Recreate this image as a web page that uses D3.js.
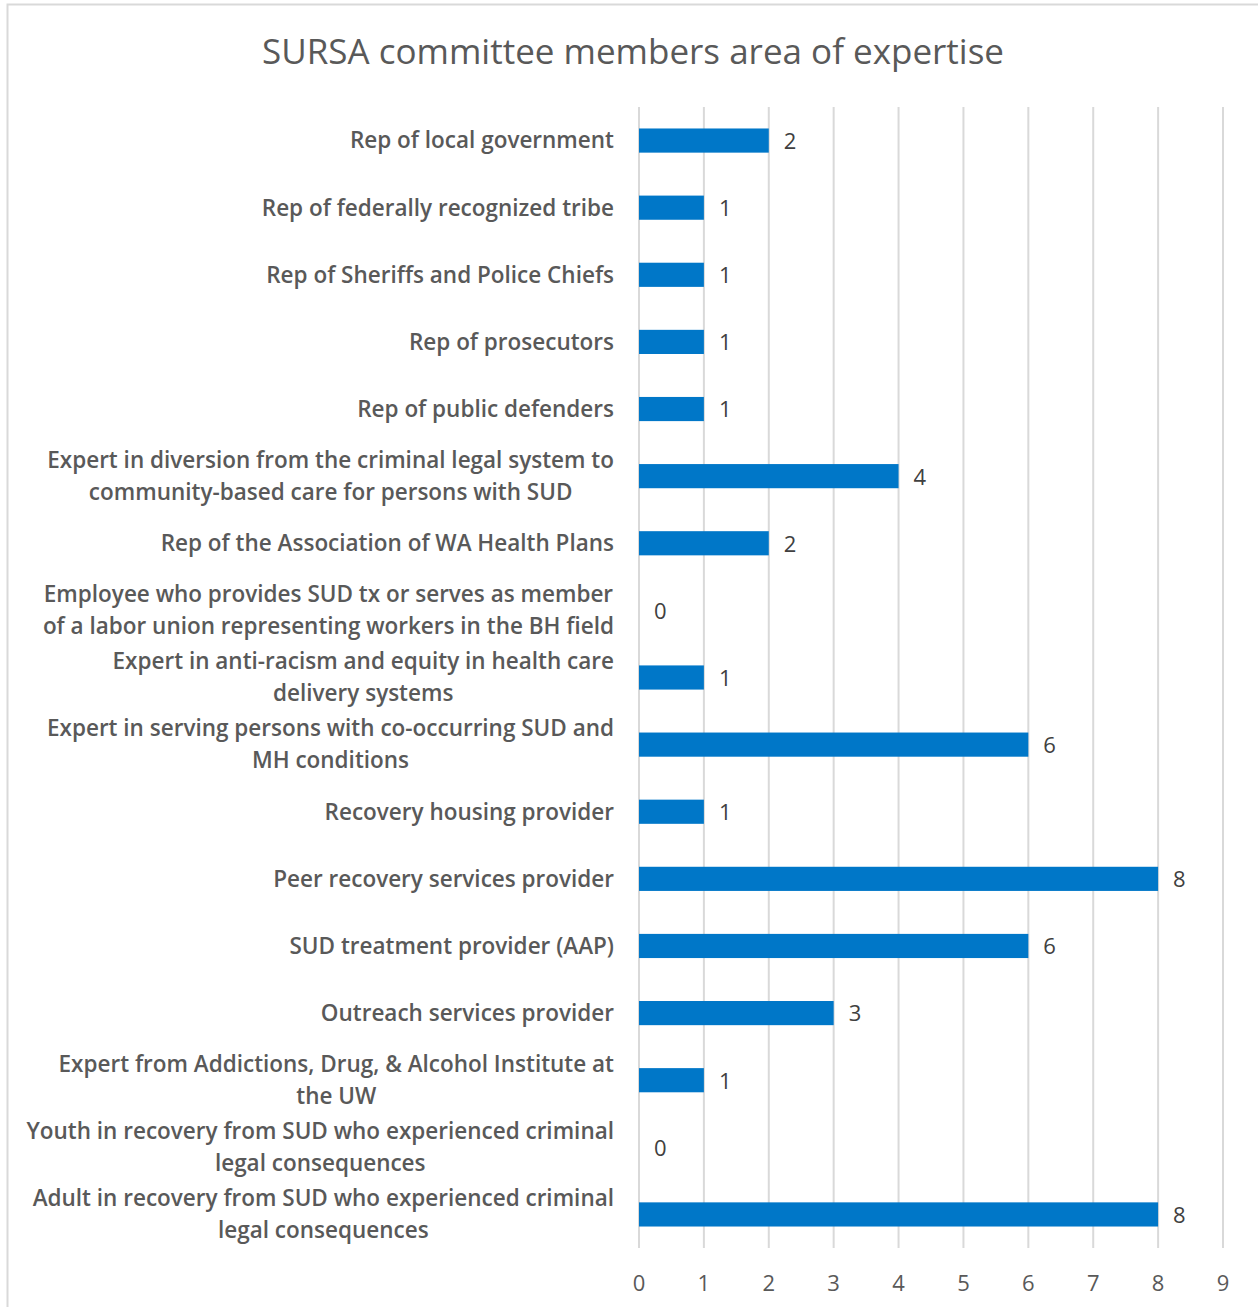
<!DOCTYPE html>
<html lang="en">
<head>
  <meta charset="UTF-8">
  <title>SURSA committee members area of expertise</title>
  <script src="https://d3js.org/d3.v7.min.js"></script>
  <style>
    body { margin: 0; background: #fff; }
    svg { display: block; font-family: "Open Sans", "Noto Sans", sans-serif; }
    .cat { font-size: 22.5px; font-weight: 600; fill: #595959; }
    .val { font-size: 22px; fill: #404040; }
    .tick-label { font-size: 22px; fill: #595959; }
    .title { font-size: 35px; fill: #595959; }
  </style>
</head>
<body>
<div id="chart"></div>
<script>
// categories, top to bottom; "|" marks a line break in the label
const categories = [
  "Rep of local government",
  "Rep of federally recognized tribe",
  "Rep of Sheriffs and Police Chiefs",
  "Rep of prosecutors",
  "Rep of public defenders",
  "Expert in diversion from the criminal legal system to|community-based care for persons with SUD",
  "Rep of the Association of WA Health Plans",
  "Employee who provides SUD tx or serves as member|of a labor union representing workers in the BH field",
  "Expert in anti-racism and equity in health care|delivery systems",
  "Expert in serving persons with co-occurring SUD and|MH conditions",
  "Recovery housing provider",
  "Peer recovery services provider",
  "SUD treatment provider (AAP)",
  "Outreach services provider",
  "Expert from Addictions, Drug, & Alcohol Institute at|the UW",
  "Youth in recovery from SUD who experienced criminal|legal consequences",
  "Adult in recovery from SUD who experienced criminal|legal consequences"
];
const counts = [2, 1, 1, 1, 1, 4, 2, 0, 1, 6, 1, 8, 6, 3, 1, 0, 8];
const xTicks = [0, 1, 2, 3, 4, 5, 6, 7, 8, 9];

const width = 1258, height = 1307;
const plot = { left: 639, right: 1223, top: 107, bottom: 1248 };

const svg = d3.select("#chart").append("svg")
  .attr("width", width)
  .attr("height", height);

// chart frame (top and left edges visible)
svg.append("path")
  .attr("d", `M7.5,${height} V4.5 H${width}`)
  .attr("fill", "none")
  .attr("stroke", "#d9d9d9")
  .attr("stroke-width", 2);

svg.append("text")
  .attr("class", "title")
  .attr("x", 633)
  .attr("y", 64)
  .attr("text-anchor", "middle")
  .text("SURSA committee members area of expertise");

const x = d3.scaleLinear().domain([0, 9]).range([plot.left, plot.right]);
const y = d3.scaleBand().domain(categories)
  .range([plot.top, plot.bottom])
  .paddingInner(0.64)
  .paddingOuter(0.32);

// vertical gridlines
svg.append("g")
  .selectAll("line")
  .data(xTicks)
  .join("line")
  .attr("x1", d => x(d)).attr("x2", d => x(d))
  .attr("y1", plot.top).attr("y2", plot.bottom)
  .attr("stroke", "#d9d9d9")
  .attr("stroke-width", 2);

// tick labels
svg.append("g")
  .selectAll("text")
  .data(xTicks)
  .join("text")
  .attr("class", "tick-label")
  .attr("x", d => x(d))
  .attr("y", 1283)
  .attr("dy", "0.35em")
  .attr("text-anchor", "middle")
  .text(d => d);

// bars
svg.append("g")
  .selectAll("rect")
  .data(categories)
  .join("rect")
  .attr("x", x(0))
  .attr("y", d => y(d))
  .attr("width", (d, i) => x(counts[i]) - x(0))
  .attr("height", y.bandwidth())
  .attr("fill", "#0077c8");

// value labels
svg.append("g")
  .selectAll("text")
  .data(categories)
  .join("text")
  .attr("class", "val")
  .attr("x", (d, i) => x(counts[i]) + 15)
  .attr("y", d => y(d) + y.bandwidth() / 2)
  .attr("dy", "0.38em")
  .text((d, i) => counts[i]);

// category labels: block right-aligned at 614, lines centred within block
const lineH = 32;
const labels = svg.append("g");
categories.forEach(c => {
  const lines = c.split("|");
  const cy = y(c) + y.bandwidth() / 2;
  const g = labels.append("g");
  const texts = lines.map((ln, k) => g.append("text")
    .attr("class", "cat")
    .attr("y", cy + (k - (lines.length - 1) / 2) * lineH)
    .attr("dy", "0.35em")
    .attr("text-anchor", "middle")
    .text(ln));
  const w = d3.max(texts, t => t.node().getComputedTextLength());
  texts.forEach(t => t.attr("x", 614 - w / 2));
});
</script>
</body>
</html>
